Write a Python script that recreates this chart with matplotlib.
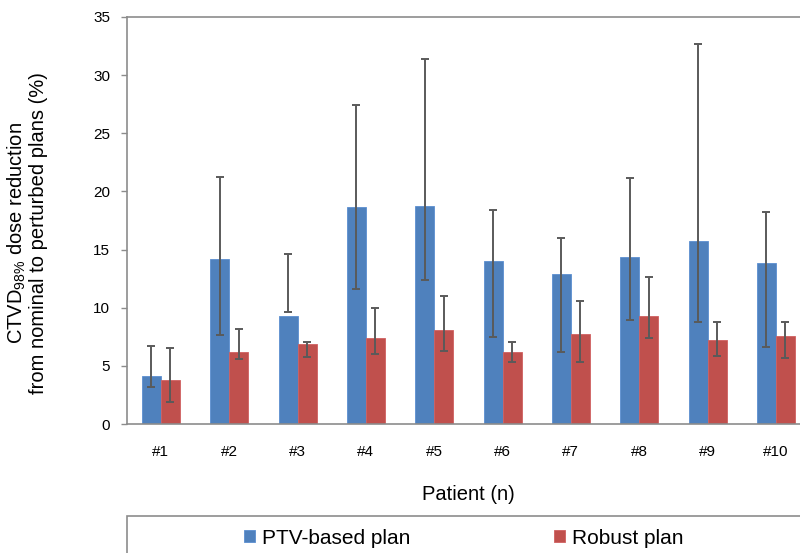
import matplotlib.pyplot as plt
import numpy as np
from matplotlib.patches import Rectangle

plt.rcParams['font.family'] = ['Liberation Sans', 'DejaVu Sans']
plt.rcParams['mathtext.fontset'] = 'custom'
plt.rcParams['mathtext.rm'] = 'Liberation Sans'
plt.rcParams['mathtext.it'] = 'Liberation Sans'

patients = ['#1', '#2', '#3', '#4', '#5', '#6', '#7', '#8', '#9', '#10']

# mean dose reduction with min / max over the perturbed plans (%)
ptv_mean = [4.15, 14.16, 9.29, 18.69, 18.77, 14.04, 12.93, 14.36, 15.71, 13.84]
ptv_low = [3.2, 7.65, 9.63, 11.64, 12.35, 7.45, 6.22, 8.94, 8.8, 6.62]
ptv_high = [6.7, 21.27, 14.6, 27.43, 31.36, 18.37, 15.99, 21.15, 32.7, 18.2]

robust_mean = [3.75, 6.16, 6.85, 7.37, 8.08, 6.16, 7.71, 9.29, 7.2, 7.59]
robust_low = [1.86, 5.59, 5.79, 5.99, 6.3, 5.36, 5.3, 7.42, 5.87, 5.67]
robust_high = [6.5, 8.17, 7.05, 9.97, 11.03, 7.05, 10.6, 12.67, 8.74, 8.74]

blue = '#4f81bd'
red = '#c0504d'
axis_grey = '#8c8c8c'

fig = plt.figure(figsize=(8, 5.53), dpi=100)
ax = fig.add_axes([126.7 / 800, 129 / 553, 683.3 / 800, 407 / 553])

x = np.arange(len(patients))
w = 0.278

ax.bar(x - w / 2, ptv_mean, w, color=blue, edgecolor='#5b8fd0', linewidth=0.6,
       label='PTV-based plan', zorder=2)
ax.bar(x + w / 2, robust_mean, w, color=red, edgecolor='#d06060', linewidth=0.6,
       label='Robust plan', zorder=2)

for xs, lo, hi in [(x - w / 2, ptv_low, ptv_high), (x + w / 2, robust_low, robust_high)]:
    ax.vlines(xs, lo, hi, color='#5a5a5a', linewidth=1.4, zorder=3)
    ax.hlines(lo, xs - 0.058, xs + 0.058, color='#5a5a5a', linewidth=1.4, zorder=3)
    ax.hlines(hi, xs - 0.058, xs + 0.058, color='#5a5a5a', linewidth=1.4, zorder=3)

ax.set_xlim(-0.5, len(patients) - 0.5)
ax.set_ylim(0, 35)
ax.set_yticks(range(0, 36, 5))
ax.set_xticks(x)
ax.set_xticklabels(patients)

for s in ax.spines.values():
    s.set_color(axis_grey)
    s.set_linewidth(1.2)

ax.tick_params(axis='y', direction='out', length=4, width=1, color=axis_grey,
               labelsize=11, pad=8)
ax.tick_params(axis='x', length=0, labelsize=11, pad=15)

ax.set_xlabel('Patient (n)', fontsize=14.5, labelpad=19)
ax.set_ylabel('CTVD$_{98\\%}$ dose reduction\nfrom nominal to perturbed plans (%)',
              fontsize=14.5, linespacing=1.1)
ax.yaxis.set_label_coords(-0.115, 0.47)

# legend frame runs off the bottom-right of the figure
fig.patches.append(Rectangle((127 / 800, -0.1), 0.9, 0.1 + (553 - 516) / 553,
                             transform=fig.transFigure, fill=False,
                             edgecolor=axis_grey, linewidth=1.2, clip_on=False))
fig.legend(loc='center left', bbox_to_anchor=(244 / 800, 1 - 538 / 553), ncol=2,
           frameon=False, fontsize=15, handlelength=0.55, handleheight=0.55,
           handletextpad=0.3, columnspacing=6.9, borderpad=0, borderaxespad=0)

fig.savefig('out.png', dpi=100)
